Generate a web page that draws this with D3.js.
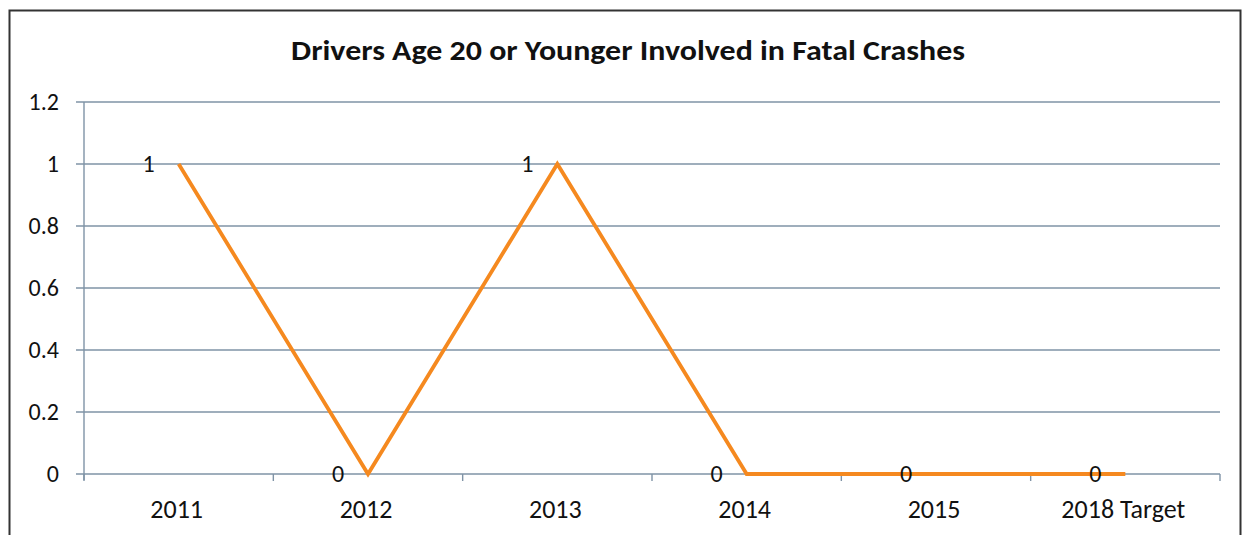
<!DOCTYPE html>
<html><head><meta charset="utf-8">
<script src="https://cdn.jsdelivr.net/npm/d3@7"></script>
<style>body{margin:0;background:#fff}svg{display:block}</style>
</head><body>
<script>
const categories = ["2011","2012","2013","2014","2015","2018 Target"];
const values = [1,0,1,0,0,0];
const yTicks = [0,0.2,0.4,0.6,0.8,1,1.2];
const yTickLabels = ["0","0.2","0.4","0.6","0.8","1","1.2"];
const title = "Drivers Age 20 or Younger Involved in Fatal Crashes";

(function(){
const W = 1249, H = 535;
const svg = d3.select("body").append("svg").attr("width", W).attr("height", H);
const font = "Carlito, 'Open Sans', 'Noto Sans', sans-serif";

// outer chart border
svg.append("rect").attr("x", 9.5).attr("y", 10.5).attr("width", 1231).attr("height", 530)
  .attr("fill", "#fff").attr("stroke", "#333").attr("stroke-width", 2);

const pL = 84, pR = 1220, pT = 102, pB = 474;
const x = d3.scaleBand().domain(categories).range([pL, pR]);
const y = d3.scaleLinear().domain([0, 1.2]).range([pB, pT]);

// gridlines
svg.append("g").selectAll("line").data(yTicks).join("line")
  .attr("x1", pL - 8).attr("x2", pR)
  .attr("y1", d => y(d)).attr("y2", d => y(d))
  .attr("stroke", "#7f93a6").attr("stroke-width", 1.4);

// y axis line
svg.append("line").attr("x1", pL).attr("x2", pL).attr("y1", pT).attr("y2", pB + 6)
  .attr("stroke", "#7f93a6").attr("stroke-width", 1.4);

// x tick marks at band boundaries
const bounds = categories.map(c => x(c)).concat([pR]);
svg.append("g").selectAll("line").data(bounds).join("line")
  .attr("x1", d => d).attr("x2", d => d).attr("y1", pB).attr("y2", pB + 7)
  .attr("stroke", "#7f93a6").attr("stroke-width", 1.4);

// y tick labels
svg.append("g").selectAll("text").data(yTicks).join("text")
  .attr("x", 59).attr("y", d => y(d)).attr("dy", "0.35em")
  .attr("text-anchor", "end").attr("font-family", font).attr("font-size", 24)
  .attr("fill", "#111")
  .text((d, i) => yTickLabels[i]);

// x labels
svg.append("g").selectAll("text").data(categories).join("text")
  .attr("x", d => x(d) + x.bandwidth() / 2 - 2).attr("y", 518)
  .attr("text-anchor", "middle").attr("font-family", font).attr("font-size", 26)
  .attr("fill", "#111").text(d => d);

// line
const pts = categories.map((c, i) => [x(c) + x.bandwidth() / 2, y(values[i])]);
svg.append("path").attr("d", d3.line()(pts)).attr("fill", "none")
  .attr("stroke", "#f5891f").attr("stroke-width", 3.8).attr("stroke-linejoin", "miter");

// data labels (left of point)
svg.append("g").selectAll("text").data(pts).join("text")
  .attr("x", d => d[0] - 30).attr("y", d => d[1]).attr("dy", "0.35em")
  .attr("text-anchor", "middle").attr("font-family", font).attr("font-size", 24)
  .attr("fill", "#111").text((d, i) => values[i]);

// title
svg.append("text").attr("x", 628).attr("y", 60).attr("text-anchor", "middle")
  .attr("font-family", font).attr("font-weight", "bold").attr("font-size", 29)
  .attr("fill", "#111").attr("textLength", 674).attr("lengthAdjust", "spacingAndGlyphs")
  .text(title);
})();
</script>
</body></html>
